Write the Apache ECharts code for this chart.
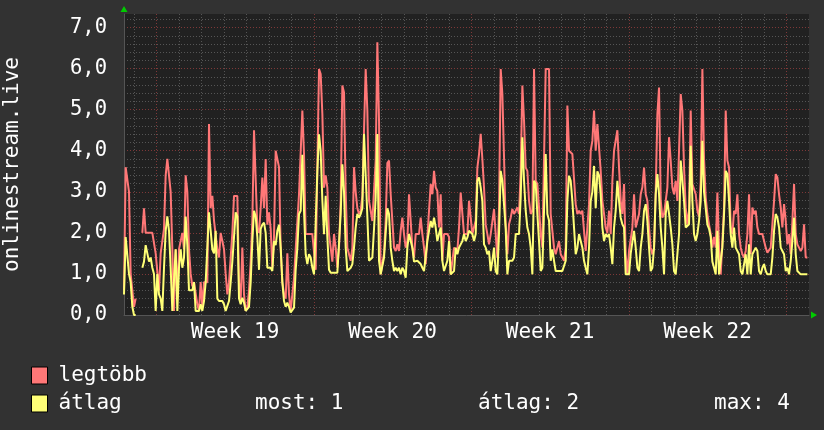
<!DOCTYPE html>
<html>
<head>
<meta charset="utf-8">
<script src="https://cdn.jsdelivr.net/npm/echarts@6/dist/echarts.min.js"></script>
<style>
html,body{margin:0;padding:0;background:#323232;}
#a{width:824px;height:430px;}
</style>
</head>
<body>
<div id="a"></div>
<script>
// idő órákban, a 19. hét hétfő 00:00-tól számolva
var startHour = -34.45;
var stepHour = 1.778;
var endHour = 696.25;
var weekNames = ['Week 19', 'Week 20', 'Week 21', 'Week 22'];
var weekCenters = [84, 252, 420, 588];
var yLabels = [0, 1, 2, 3, 4, 5, 6, 7];
var statTexts = ['most: 1', 'átlag: 2', 'max: 4'];

// legtöbb (max)
var legtobb = [
 0.6, 3.6, 3.6, 3.0, 1.0, 1.0, 0.2, 0.4, null, null,
 null, 2.0, 2.6, 2.0, 2.0, 2.0, 2.0, 2.0, 2.0, 1.5,
 1.5, 0.6, 1.5, 1.5, 2.1, 3.4, 3.8, 3.4, 3.0, 1.6,
 0.1, 1.6, 0.4, 1.6, 1.6, 2.0, 1.6, 3.4, 3.0, 1.6,
 1.0, 0.7, 0.8, 0.8, 0.26, 0.1, 0.8, 0.2, 0.8, 0.8,
 0.8, 4.65, 2.6, 2.9, 2.3, 2.3, 1.6, 1.4, 2.0, 2.0,
 1.6, 1.0, 0.5, 0.8, 1.4, 2.0, 2.9, 2.9, 2.9, 0.8,
 0.34, 1.64, 0.5, 0.1, 0.18, 0.6, 1.3, 2.3, 4.5, 4.5,
 2.1, 2.0, 2.6, 3.35, 2.6, 3.8, 2.2, 2.5, 2.1, 1.15,
 1.9, 4.0, 3.8, 3.6, 1.64, 0.8, 0.5, 0.4, 1.5, 0.5,
 0.1, 0.14, 0.9, 1.6, 1.64, 2.94, 2.94, 4.98, 3.92, 1.97,
 1.97, 1.97, 1.97, 1.97, 1.97, 1.1, 3.6, 5.99, 5.87, 4.9,
 3.1, 3.4, 3.1, 1.97, 1.97, 1.3, 1.97, 1.64, 1.15, 1.64,
 2.8, 5.59, 5.42, 3.0, 1.64, 1.64, 1.32, 1.64, 3.6, 3.0,
 2.6, 2.46, 2.54, 2.9, 4.5, 5.99, 4.98, 2.78, 2.78, 2.29,
 2.3, 3.76, 6.64, 4.73, 0.99, 0.99, 1.5, 2.3, 3.7, 3.76,
 2.94, 2.94, 1.64, 1.56, 1.72, 1.56, 2.05, 2.37, 1.97, 1.64,
 1.8, 2.94, 2.94, 1.64, 1.4, 1.97, 1.97, 1.97, 2.37, 1.97,
 1.64, 1.24, 1.9, 2.54, 3.19, 2.94, 3.51, 3.11, 3.02, 2.13,
 2.94, 1.32, 1.97, 1.97, 1.97, 1.9, 0.99, 0.99, 1.64, 1.64,
 1.56, 2.13, 2.98, 2.94, 1.97, 1.97, 1.97, 2.78, 2.78, 1.97,
 1.97, 2.3, 3.59, 3.92, 4.41, 3.8, 3.1, 2.2, 1.97, 1.72,
 1.97, 1.97, 2.58, 1.97, 1.4, 2.6, 5.99, 5.38, 3.84, 2.2,
 1.48, 2.21, 2.37, 2.58, 2.46, 2.54, 2.62, 2.46, 3.51, 5.59,
 4.73, 3.59, 3.51, 2.78, 2.46, 2.54, 5.99, 3.27, 3.19, 2.62,
 1.97, 1.64, 1.64, 5.99, 5.99, 5.99, 2.46, 2.05, 1.64, 1.48,
 1.48, 1.8, 1.48, 1.48, 1.32, 1.64, 5.1, 4.0, 4.0, 3.92,
 3.92, 2.7, 2.46, 2.54, 2.46, 2.54, 2.05, 1.56, 1.56, 2.7,
 4.0, 4.24, 4.98, 4.0, 4.65, 4.65, 3.51, 2.78, 2.46, 2.13,
 2.0, 2.54, 1.97, 3.27, 4.0, 4.0, 4.5, 3.59, 2.78, 2.46,
 3.19, 1.48, 0.99, 1.56, 1.56, 2.13, 2.94, 2.13, 2.13, 2.46,
 2.94, 3.11, 3.59, 2.94, 2.78, 2.13, 1.64, 1.48, 1.64, 3.02,
 4.89, 5.54, 2.8, 2.37, 2.46, 2.78, 3.11, 4.33, 3.76, 3.11,
 2.94, 3.27, 2.78, 4.0, 5.38, 4.98, 3.59, 2.62, 2.2, 2.54,
 4.98, 3.19, 3.19, 2.94, 2.54, 2.4, 3.27, 5.99, 3.8, 2.86,
 2.46, 2.2, 1.97, 1.64, 1.9, 1.64, 2.98, 1.64, 0.99, 1.8,
 2.62, 4.98, 3.76, 3.59, 2.13, 1.97, 2.54, 2.46, 2.94, 1.97,
 1.64, 1.48, 1.4, 1.56, 1.97, 2.94, 1.48, 2.62, 2.46, 2.54,
 2.13, 1.97, 1.97, 1.97, 1.97, 1.64, 1.52, 1.52, 1.64, 2.21,
 2.78, 3.43, 3.35, 2.94, 2.62, 2.13, 2.7, 2.29, 1.72, 1.97,
 1.48, 2.29, 3.19, 1.97, 1.72, 1.64, 1.56, 1.64, 2.21, 1.4, 1.4
];

// átlag
var atlag = [
 0.5, 1.9, 1.9, 1.0, 0.8, 0.2, 0.0, 0.0, null, null,
 null, 1.15, 1.3, 1.7, 1.5, 1.3, 1.4, 1.15, 1.0, 0.1,
 1.0, 0.5, 0.4, 0.1, 1.15, 2.05, 2.4, 2.05, 1.15, 0.1,
 0.1, 1.6, 0.1, 1.15, 1.6, 1.15, 1.4, 2.4, 1.7, 0.6,
 0.6, 0.6, 0.8, 0.1, 0.1, 0.1, 0.26, 0.1, 0.34, 0.8,
 0.8, 2.5, 2.05, 1.6, 1.5, 2.05, 0.4, 0.34, 0.34, 0.34,
 0.26, 0.1, 0.1, 0.34, 0.8, 1.3, 1.9, 2.5, 2.4, 0.4,
 0.26, 0.42, 0.3, 0.1, 0.1, 0.2, 0.8, 1.8, 2.54, 2.4,
 1.9, 1.1, 2.1, 2.2, 2.25, 2.0, 1.15, 1.12, 1.15, 1.07,
 1.8, 1.7, 2.05, 2.2, 1.64, 0.8, 0.34, 0.2, 0.3, 0.2,
 0.06, 0.06, 0.18, 1.1, 1.64, 2.46, 2.54, 3.9, 2.54, 1.48,
 1.24, 1.48, 1.4, 1.15, 0.99, 1.03, 3.5, 4.4, 4.0, 2.8,
 1.97, 2.9, 1.9, 1.1, 1.03, 1.03, 1.03, 1.03, 1.03, 1.07,
 2.46, 3.67, 3.0, 1.64, 1.07, 1.1, 1.15, 1.24, 1.64, 2.13,
 2.46, 2.37, 2.46, 2.6, 4.41, 4.41, 2.4, 1.32, 1.32, 1.4,
 2.1, 2.86, 4.41, 1.32, 0.99, 0.99, 1.4, 2.0, 2.6, 2.46,
 1.64, 1.32, 1.07, 1.15, 1.07, 1.15, 0.99, 1.15, 1.07, 0.91,
 1.64, 1.97, 1.97, 1.64, 1.3, 1.32, 1.32, 1.32, 1.24, 1.15,
 1.07, 1.07, 1.8, 2.05, 2.29, 2.13, 2.37, 2.13, 1.8, 1.97,
 2.13, 1.32, 1.07, 1.07, 1.32, 1.8, 0.99, 0.99, 1.07, 1.64,
 1.48, 1.64, 1.72, 1.8, 1.97, 1.8, 1.89, 2.05, 2.05, 1.97,
 1.8, 1.97, 3.27, 3.35, 3.1, 2.78, 1.72, 1.64, 1.48, 1.56,
 1.07, 1.32, 1.64, 1.07, 0.99, 2.0, 3.51, 3.27, 3.27, 2.1,
 0.99, 1.32, 1.32, 1.32, 1.4, 1.97, 1.97, 1.97, 2.86, 4.33,
 3.27, 2.54, 2.13, 1.97, 1.64, 0.99, 3.27, 3.19, 2.46, 1.8,
 1.07, 1.15, 1.15, 3.92, 2.46, 2.3, 1.32, 1.6, 1.32, 1.07,
 1.07, 1.07, 1.07, 1.07, 1.07, 1.32, 2.78, 3.39, 3.27, 2.78,
 2.13, 1.48, 1.64, 1.97, 1.97, 1.64, 1.32, 1.15, 0.99, 1.64,
 2.78, 3.0, 3.63, 2.6, 3.5, 3.4, 2.94, 2.13, 1.8, 1.97,
 1.9, 1.97, 1.64, 1.24, 2.13, 2.54, 3.27, 2.78, 2.37, 2.21,
 2.13, 0.99, 0.99, 0.99, 1.5, 1.48, 2.05, 1.64, 1.15, 1.07,
 1.64, 1.97, 2.54, 2.7, 2.29, 1.64, 1.07, 1.15, 1.64, 2.94,
 3.43, 2.94, 2.13, 1.64, 0.99, 2.46, 2.78, 2.46, 2.13, 1.72,
 1.07, 0.99, 1.03, 1.97, 3.76, 3.72, 2.78, 2.13, 2.1, 2.21,
 4.12, 2.78, 1.97, 1.8, 1.97, 2.3, 2.78, 4.24, 3.0, 2.6,
 2.2, 2.1, 1.9, 1.3, 1.15, 0.99, 2.05, 0.99, 0.99, 1.64,
 2.46, 3.51, 3.43, 2.78, 1.97, 1.64, 2.13, 1.64, 1.64, 1.48,
 1.07, 0.99, 0.99, 1.48, 0.99, 1.72, 0.99, 1.48, 1.48, 1.64,
 1.56, 1.07, 0.99, 1.15, 1.24, 1.07, 0.99, 0.99, 0.99, 1.4,
 2.05, 2.46, 2.37, 2.13, 1.64, 1.56, 1.48, 1.07, 1.15, 0.99,
 1.32, 1.8, 2.37, 1.48, 1.07, 1.03, 0.99, 1.03, 0.99, 0.99, 0.99
];

var font = 'DejaVu Sans Mono';
var textColor = '#ffffff';
var minorColor = '#555555';
var majorColor = '#7e3838';

function pairs(vals) {
  return vals.map(function (v, i) { return [startHour + i * stepHour, v]; });
}

// napi és heti rácsvonalak
var dayLines = [], weekLines = [];
for (var h = Math.ceil(startHour / 24) * 24; h < endHour - 1; h += 24) {
  if (h % 168 === 0) weekLines.push(h); else dayLines.push(h);
}
var yMinor = [], yMajor = [];
for (var k = 1; k <= 36; k++) {
  var v = Math.round(k * 2) / 10;
  if (k % 5 === 0) yMajor.push(v); else yMinor.push(v);
}

var myechart = echarts.init(document.getElementById('a'));
var option = {
  backgroundColor: '#323232',
  animation: false,
  grid: {
    left: 124, top: 14, width: 685, height: 301,
    outerBoundsMode: 'none', containLabel: false,
    show: true, backgroundColor: '#212121', borderWidth: 0
  },
  legend: {
    data: ['legtöbb', 'átlag'],
    orient: 'vertical',
    left: 26, top: 360,
    itemWidth: 16, itemHeight: 17, itemGap: 7,
    icon: 'rect',
    selectedMode: false,
    itemStyle: { borderColor: '#000000', borderWidth: 1 },
    textStyle: { color: textColor, fontFamily: font, fontSize: 21, padding: [0, 0, 0, 6] }
  },
  xAxis: [
    {
      type: 'value', min: startHour, max: endHour, position: 'bottom',
      axisLine: { show: true, onZero: false, lineStyle: { color: '#555555', width: 1 } },
      axisTick: { show: false, customValues: dayLines },
      axisLabel: {
        show: true, customValues: weekCenters, margin: 7,
        color: textColor, fontFamily: font, fontSize: 21,
        formatter: function (val) { return weekNames[Math.round((val - 84) / 168)]; }
      },
      splitLine: { show: true, lineStyle: { color: minorColor, type: [1, 2], width: 1 } }
    },
    {
      type: 'value', min: startHour, max: endHour, position: 'bottom',
      axisLine: { show: false }, axisLabel: { show: false },
      axisTick: { show: false, customValues: weekLines },
      splitLine: { show: true, lineStyle: { color: majorColor, type: [1, 2], width: 1 } }
    },
    {
      type: 'value', min: startHour, max: endHour, position: 'bottom',
      axisLine: { show: true, onZero: false, symbol: ['none', 'triangle'], symbolSize: [7, 6], symbolOffset: [0, 5],
        lineStyle: { color: '#00cc00', width: 0 } },
      axisLabel: { show: false }, axisTick: { show: false }, splitLine: { show: false }
    }
  ],
  yAxis: [
    {
      type: 'value', min: 0, max: 7.33, position: 'left',
      name: 'onlinestream.live', nameLocation: 'middle', nameGap: 101,
      nameTextStyle: { color: textColor, fontFamily: font, fontSize: 21 },
      axisLine: { show: true, onZero: false, lineStyle: { color: '#555555', width: 1 } },
      axisTick: { show: false, customValues: yMajor },
      axisLabel: {
        show: true, customValues: yLabels, margin: 17,
        color: textColor, fontFamily: font, fontSize: 20.5, padding: [8, 0, 0, 0],
        formatter: function (val) { return val.toFixed(1).replace('.', ','); }
      },
      splitLine: { show: true, lineStyle: { color: majorColor, type: [1, 2], width: 1 } }
    },
    {
      type: 'value', min: 0, max: 7.33, position: 'left',
      axisLine: { show: false }, axisLabel: { show: false },
      axisTick: { show: false, customValues: yMinor },
      splitLine: { show: true, lineStyle: { color: minorColor, type: [1, 2], width: 1 } }
    },
    {
      type: 'value', min: 0, max: 7.33, position: 'left',
      axisLine: { show: true, onZero: false, symbol: ['none', 'triangle'], symbolSize: [7, 6], symbolOffset: [0, 5],
        lineStyle: { color: '#00cc00', width: 0 } },
      axisLabel: { show: false }, axisTick: { show: false }, splitLine: { show: false }
    }
  ],
  graphic: statTexts.map(function (t, i) {
    return {
      type: 'text', x: [255, 478, 714][i], y: 404,
      style: { text: t, fill: textColor, font: '21px "' + font + '"', verticalAlign: 'middle' }
    };
  }),
  series: [
    {
      name: 'legtöbb', type: 'line', data: pairs(legtobb),
      symbol: 'none', showSymbol: false,
      lineStyle: { color: '#ff7777', width: 2 }, itemStyle: { color: '#ff7777' }
    },
    {
      name: 'átlag', type: 'line', data: pairs(atlag),
      symbol: 'none', showSymbol: false,
      lineStyle: { color: '#ffff77', width: 2 }, itemStyle: { color: '#ffff77' }
    }
  ]
};
myechart.setOption(option);
</script>
</body>
</html>
